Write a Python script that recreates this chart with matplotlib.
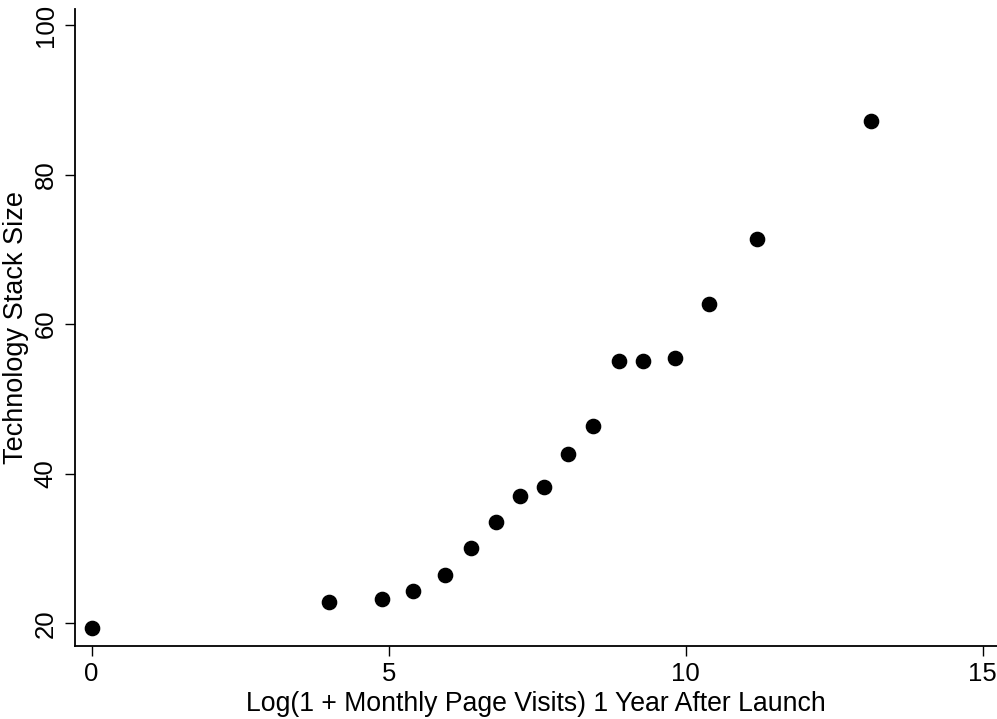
import matplotlib
matplotlib.use("Agg")
import matplotlib.pyplot as plt

# data
log_visits = [0.0, 4.0, 4.89, 5.41, 5.95, 6.39, 6.80, 7.21, 7.62, 8.02,
              8.44, 8.88, 9.28, 9.82, 10.39, 11.20, 13.12]
stack_size = [19.4, 22.8, 23.2, 24.3, 26.4, 30.0, 33.6, 37.0, 38.2, 42.7,
              46.4, 55.1, 55.1, 55.5, 62.7, 71.4, 87.2]

x_ticks = [0, 5, 10, 15]
y_ticks = [20, 40, 60, 80, 100]

plt.rcParams['font.family'] = ['Liberation Sans', 'DejaVu Sans']

fig = plt.figure(figsize=(9.97, 7.19), dpi=100)
ax = fig.add_axes([75 / 997, 73.3 / 719, 1 - 75 / 997, (645.7 - 9.3) / 719])

ax.scatter(log_visits, stack_size, s=105, color='black', zorder=3, clip_on=False)

ax.set_xlim(-0.28, 15.24)
ax.set_ylim(17.0, 102.1)
ax.set_xticks(x_ticks)
ax.set_yticks(y_ticks)

ax.spines['top'].set_visible(False)
ax.spines['right'].set_visible(False)
for s in ['left', 'bottom']:
    ax.spines[s].set_linewidth(1.3)

ax.tick_params(axis='both', direction='out', length=7.5, width=1.0, labelsize=18.5, color='black')
ax.tick_params(axis='x', pad=4)
ax.tick_params(axis='y', pad=5)
for lbl in ax.get_yticklabels():
    lbl.set_rotation(90)
    lbl.set_va('center')

ax.set_xlabel('Log(1 + Monthly Page Visits) 1 Year After Launch', fontsize=19.2, labelpad=4)
ax.set_ylabel('Technology Stack Size', fontsize=19.5, labelpad=3)

fig.savefig('out.png', dpi=100)
